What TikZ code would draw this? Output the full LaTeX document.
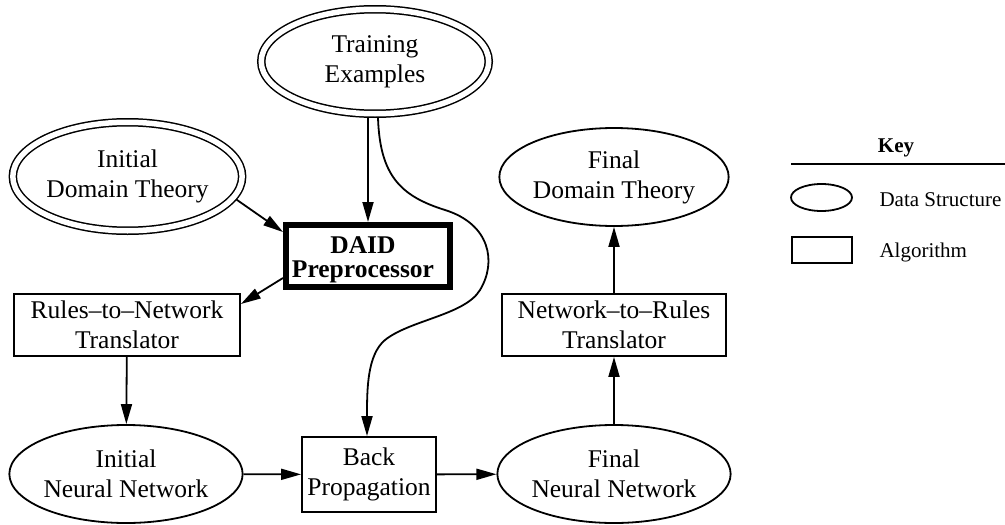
\documentclass[tikz,border=0pt]{standalone}
\usepackage{fontspec}
\setmainfont{Liberation Serif}
\usetikzlibrary{arrows.meta,shapes.geometric}
\begin{document}
\begin{tikzpicture}[x=1pt,y=-1pt,
  every node/.style={align=center,font=\fontsize{25.5}{30}\selectfont},
  dataell/.style={draw,ellipse,line width=1.8pt,inner sep=0pt},
  dblell/.style={draw,ellipse,double,line width=1.5pt,double distance=5.5pt,inner sep=0pt,outer sep=4.25pt},
  algbox/.style={draw,rectangle,line width=1.8pt,inner sep=0pt},
  boldbox/.style={draw,rectangle,line width=6pt,inner sep=0pt,outer sep=3pt},
  arr/.style={line width=1.8pt,-{Triangle[length=20pt,width=11pt]}},
  keytext/.style={font=\fontsize{21}{25}\selectfont,anchor=west}
]
\useasboundingbox (0,0) rectangle (1005,525);

\node[dblell,minimum width=227.5pt,minimum height=104.5pt] (te) at (375,61.5) {Training\\Examples};
\node[dblell,minimum width=226.5pt,minimum height=108.5pt] (idt) at (127.5,176.5) {Initial\\Domain Theory};
\node[boldbox,minimum width=164pt,minimum height=62pt] (daid) at (368,256) {};
\node[font=\fontsize{25.5}{24}\selectfont\bfseries,inner sep=0pt] (daidtext) at ([xshift=-5pt,yshift=-4pt]daid.center) {DAID\\Preprocessor};
\node[algbox,minimum width=226pt,minimum height=62pt] (rules) at (127,325) {Rules–to–Network\\Translator};
\node[dataell,minimum width=218pt,minimum height=98pt] (inn) at (126,474) {Initial\\Neural Network};
\node[algbox,minimum width=134pt,minimum height=75pt] (bp) at (369,474.5) {Back\\Propagation};
\node[dataell,minimum width=218pt,minimum height=98pt] (fnn) at (614,474) {Final\\Neural Network};
\node[algbox,minimum width=224pt,minimum height=62pt] (n2r) at (614,325) {Network–to–Rules\\Translator};
\node[dataell,minimum width=218pt,minimum height=98pt] (fdt) at (614,177) {Final\\Domain Theory};

% connectors
\draw[arr] (daid.north |- te.south) -- (daid.north);
\draw[arr] ([xshift=3pt]te.south) .. controls (380,175) and (400,196) .. (445,210)
  .. controls (490,224) and (497,262) .. (480,290)
  .. controls (465,315) and (410,320) .. (385,340)
  .. controls (367,355) and (367,390) .. ([xshift=-2pt]bp.north);
\draw[arr] (idt.-12) -- ([yshift=24pt]daid.west);
\draw[arr] ([yshift=-22pt]daid.west) -- ([yshift=21pt]rules.east);
\draw[arr] (rules) -- (inn);
\draw[arr] (inn) -- (bp);
\draw[arr] (bp) -- (fnn);
\draw[arr] (fnn) -- (n2r);
\draw[arr] (n2r) -- (fdt);

% key
\node[font=\fontsize{21}{25}\selectfont\bfseries] (keyt) at (896,148) {Key};
\coordinate (kl1) at (791,164);
\coordinate (kl2) at (1005,164);
\draw[line width=2.5pt] (kl1) -- (kl2);
\node[draw,ellipse,line width=1.8pt,inner sep=0pt,minimum width=61pt,minimum height=27pt] (kell) at (821.5,197.5) {};
\node[draw,rectangle,line width=1.8pt,inner sep=0pt,minimum width=60pt,minimum height=26pt] (krect) at (822,250) {};
\node[keytext] (kds) at (876,200) {Data Structure};
\node[keytext] (kal) at (876,252) {Algorithm};
\end{tikzpicture}
\end{document}
